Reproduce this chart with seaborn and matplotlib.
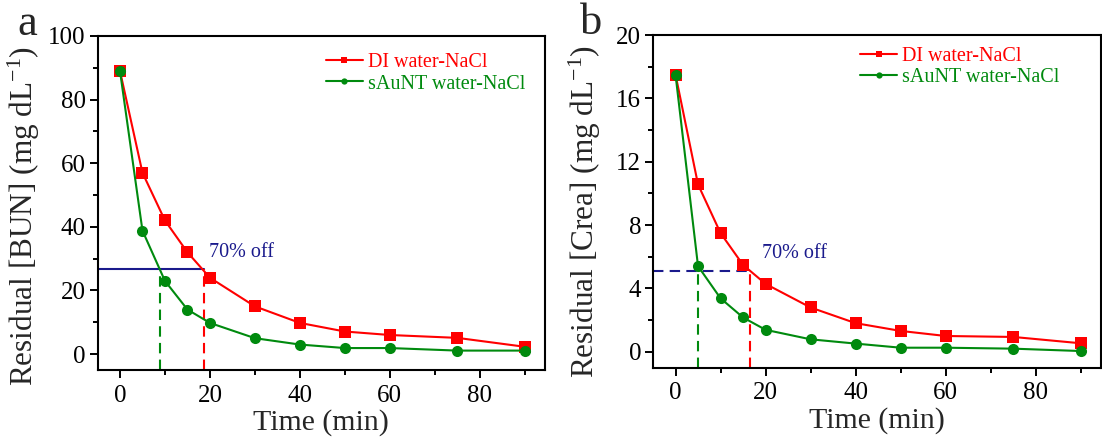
import numpy as np
import pandas as pd
import matplotlib
matplotlib.use("Agg")
import matplotlib.pyplot as plt
import seaborn as sns
from matplotlib.lines import Line2D
from matplotlib.ticker import MultipleLocator

# ---- data ----
time = [0, 5, 10, 15, 20, 30, 40, 50, 60, 75, 90]
bun_di = [89, 57, 42, 32, 24, 15, 9.8, 7.1, 6.0, 5.1, 2.3]
bun_au = [89, 38.8, 23, 14, 9.8, 5.0, 3.0, 1.9, 1.9, 1.1, 1.1]
crea_di = [17.5, 10.56, 7.49, 5.48, 4.28, 2.79, 1.80, 1.31, 0.99, 0.93, 0.53]
crea_au = [17.5, 5.4, 3.37, 2.16, 1.38, 0.78, 0.51, 0.25, 0.25, 0.19, 0.04]
series_names = ["DI water-NaCl", "sAuNT water-NaCl"]
bun_off = 26.7
bun_cross = [8.9, 18.7]      # sAuNT, DI
crea_off = 5.12
crea_cross = [5.1, 16.6]

sns.set_theme(style="ticks")
plt.rcParams["font.family"] = ["Liberation Serif", "DejaVu Serif"]
plt.rcParams["mathtext.fontset"] = "custom"
plt.rcParams["mathtext.rm"] = "Liberation Serif"
plt.rcParams["mathtext.it"] = "Liberation Serif:italic"
plt.rcParams["mathtext.default"] = "rm"

RED = "#ff0000"
GREEN = "#008a0e"
BLUE = "#1a1a8c"
palette = {series_names[0]: RED, series_names[1]: GREEN}
markers = {series_names[0]: "s", series_names[1]: "o"}

W, H = 1102, 437
fig = plt.figure(figsize=(W / 100, H / 100), dpi=100)


def px_axes(l, t, r, b):
    return fig.add_axes([l / W, 1 - b / H, (r - l) / W, (b - t) / H])


ax_a = px_axes(97.5, 36, 545, 370)
ax_b = px_axes(653, 35, 1101, 367.5)


def make_df(di, au):
    return pd.DataFrame({
        "time": time * 2,
        "value": list(di) + list(au),
        "series": [series_names[0]] * len(time) + [series_names[1]] * len(time),
    })


def draw(ax, di, au, off, cross, ylim, ymaj, ymin, ylabel, ylab_xy, hline_style,
         leg_xy, txt_xy, letter, letter_xy):
    df = make_df(di, au)
    sns.lineplot(data=df, x="time", y="value", hue="series", style="series",
                 markers=markers, dashes=False, palette=palette, ax=ax,
                 linewidth=1.5, markersize=8, markeredgewidth=0,
                 hue_order=series_names, style_order=series_names,
                 legend=False)
    ax.set_xlim(-5, 94.5)
    ax.set_ylim(*ylim)
    ax.xaxis.set_major_locator(MultipleLocator(20))
    ax.xaxis.set_minor_locator(MultipleLocator(10))
    ax.yaxis.set_major_locator(MultipleLocator(ymaj))
    ax.yaxis.set_minor_locator(MultipleLocator(ymin))
    ax.tick_params(which="both", direction="out", width=1.4, labelsize=18, colors="black")
    ax.tick_params(axis="x", pad=5)
    ax.tick_params(axis="y", pad=3)
    ax.tick_params(which="major", length=5.5)
    ax.tick_params(which="minor", length=3.6)
    for s in ax.spines.values():
        s.set_linewidth(1.5)
        s.set_color("black")
        s.set_visible(True)
    ax.set_xlabel("Time (min)", fontsize=21.5, labelpad=2)
    ax.set_ylabel(ylabel, fontsize=22.5)
    ax.yaxis.set_label_coords(*ylab_xy)
    # 70% off guide lines
    ax.plot([-5, cross[1]], [off, off], color=BLUE, lw=1.5, ls=hline_style, zorder=1)
    ax.plot([cross[0], cross[0]], [ylim[0], off], color=GREEN, lw=1.5, ls=(0, (5, 3)), zorder=1)
    ax.plot([cross[1], cross[1]], [ylim[0], off], color=RED, lw=1.5, ls=(0, (5, 3)), zorder=1)
    ax.text(txt_xy[0], txt_xy[1], "70% off", color=BLUE, fontsize=14.5, ha="left", va="center")
    handles = [Line2D([], [], color=RED, marker="s", lw=1.5, markersize=4, markeredgewidth=0),
               Line2D([], [], color=GREEN, marker="o", lw=1.5, markersize=4.5, markeredgewidth=0)]
    leg = ax.legend(handles, series_names, loc="center left", bbox_to_anchor=leg_xy,
                    frameon=False, fontsize=14.5, handlelength=1.85, handletextpad=0.25,
                    borderpad=0, borderaxespad=0, labelspacing=0.1)
    for t, c in zip(leg.get_texts(), [RED, GREEN]):
        t.set_color(c)
    fig.text(letter_xy[0] / W, 1 - letter_xy[1] / H, letter, fontsize=32, ha="left", va="baseline")


draw(ax_a, bun_di, bun_au, bun_off, bun_cross, (-5, 100), 20, 10,
     r"Residual [BUN] (mg dL$^{-1}$)", (-0.125, 0.46), "-", (0.51, 0.888),
     (19.7, 32), "a", (17, 35))
draw(ax_b, crea_di, crea_au, crea_off, crea_cross, (-1, 20), 4, 2,
     r"Residual [Crea] (mg dL$^{-1}$)", (-0.112, 0.468), (0, (5, 3)), (0.462, 0.905),
     (19.3, 6.18), "b", (580, 34))

fig.savefig("out.png", dpi=100)
